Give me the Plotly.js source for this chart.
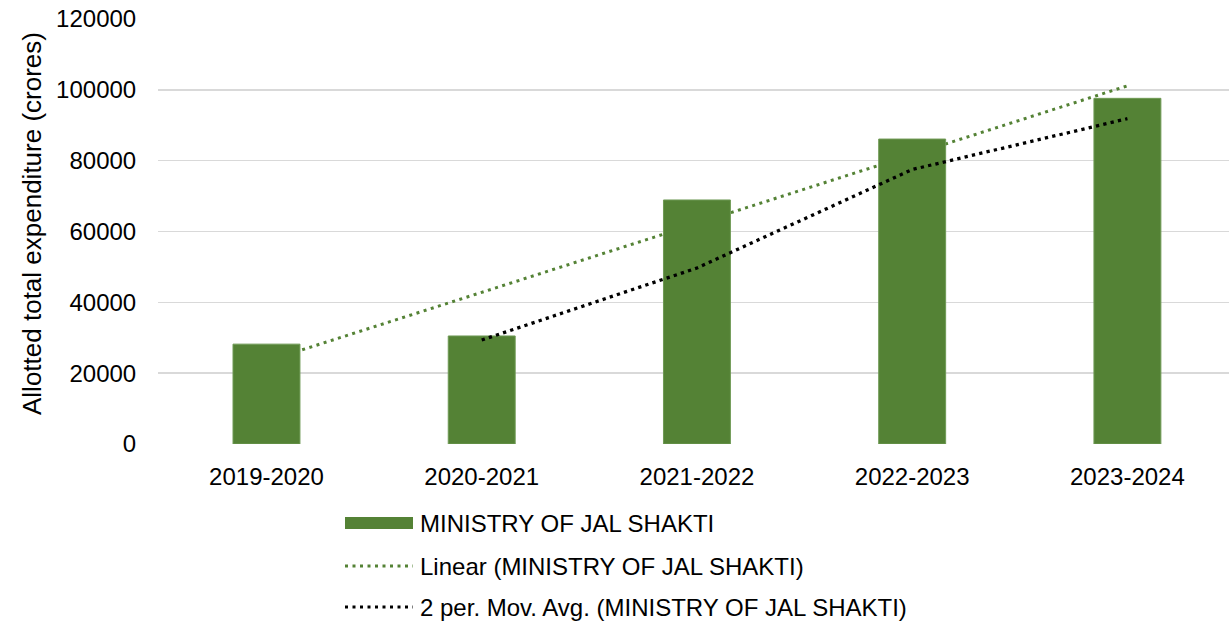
<!DOCTYPE html>
<html>
<head>
<meta charset="utf-8">
<script src="https://cdn.plot.ly/plotly-3.0.1.min.js"></script>
<style>html,body{margin:0;padding:0;background:#fff;}#chart{width:1229px;height:624px;}</style>
</head>
<body>
<div id="chart"></div>
<script>
const categories = ["2019-2020", "2020-2021", "2021-2022", "2022-2023", "2023-2024"];
const expenditure = [28200, 30500, 68900, 86100, 97600];
const yTickVals = [0, 20000, 40000, 60000, 80000, 100000, 120000];
const yTitle = "Allotted total expenditure (crores)";
const seriesName = "MINISTRY OF JAL SHAKTI";
const legendLabels = ["MINISTRY OF JAL SHAKTI", "Linear (MINISTRY OF JAL SHAKTI)", "2 per. Mov. Avg. (MINISTRY OF JAL SHAKTI)"];

const idx = categories.map((_, i) => i);
// linear regression trendline
const n = expenditure.length;
const mx = idx.reduce((a, b) => a + b, 0) / n;
const my = expenditure.reduce((a, b) => a + b, 0) / n;
let sxy = 0, sxx = 0;
idx.forEach((x, i) => { sxy += (x - mx) * (expenditure[i] - my); sxx += (x - mx) * (x - mx); });
const slope = sxy / sxx, intercept = my - slope * mx;
const linX = [idx[0], idx[n - 1]];
const linY = linX.map(x => intercept + slope * x);
// 2-period moving average
const maX = idx.slice(1);
const maY = maX.map(i => (expenditure[i] + expenditure[i - 1]) / 2);

const GREEN = "#548235";
const FONT = {family: "Liberation Sans, Arial, sans-serif", size: 24, color: "#000"};

const traces = [
  {type: "scatter", mode: "lines", x: linX, y: linY, xaxis: "x", yaxis: "y",
   line: {color: GREEN, width: 3, dash: "3px,4.5px"}, name: legendLabels[1], hoverinfo: "skip"},
  {type: "bar", x: idx, y: expenditure, xaxis: "x2", yaxis: "y2", width: 0.311,
   marker: {color: GREEN, line: {color: "#6f9a55", width: 1}}, name: seriesName},
  {type: "scatter", mode: "lines", x: maX, y: maY, xaxis: "x2", yaxis: "y2",
   line: {color: "#000", width: 3.3, dash: "3.3px,4.2px"}, name: legendLabels[2], hoverinfo: "skip"}
];

const L = 158, R = 0, T = 19, B = 180;
const W = 1229 - L - R, H = 624 - T - B;
const px = x => (x - L) / W;
const py = y => (624 - B - y) / H;
const xRange = [-0.504, 4.472];

const shapes = [
  {type: "rect", xref: "paper", yref: "paper", x0: px(345), x1: px(413), y0: py(529), y1: py(517), fillcolor: GREEN, line: {width: 0}},
  {type: "line", xref: "paper", yref: "paper", x0: px(345), x1: px(413), y0: py(566), y1: py(566), line: {color: GREEN, width: 3, dash: "3px,4.5px"}},
  {type: "line", xref: "paper", yref: "paper", x0: px(345), x1: px(413), y0: py(607), y1: py(607), line: {color: "#000", width: 3, dash: "3px,4.5px"}}
];
const legendY = [523, 566, 607];
const annotations = legendLabels.map((t, i) => ({
  text: t, xref: "paper", yref: "paper", x: px(418), y: py(legendY[i]), xanchor: "left", yanchor: "middle",
  showarrow: false, font: FONT
}));
annotations.push({
  text: yTitle, xref: "paper", yref: "paper", x: px(32), y: py(224), xanchor: "center", yanchor: "middle",
  textangle: -90, showarrow: false, font: Object.assign({}, FONT, {size: 26})
});

const layout = {
  width: 1229, height: 624,
  margin: {l: L, r: R, t: T, b: B},
  paper_bgcolor: "#fff", plot_bgcolor: "#fff",
  showlegend: false,
  font: FONT,
  xaxis: {range: xRange, tickvals: idx, ticktext: categories, showgrid: false, zeroline: false,
          showline: false, ticks: "outside", ticklen: 11, tickcolor: "rgba(0,0,0,0)", tickfont: FONT, fixedrange: true},
  yaxis: {range: [0, 120000], tickvals: yTickVals, tickformat: "d", showgrid: true, gridcolor: "#d9d9d9", gridwidth: 1.5,
          zeroline: false, showline: false, ticks: "outside", ticklen: 16, tickcolor: "rgba(0,0,0,0)", tickfont: FONT},
  xaxis2: {overlaying: "x", range: xRange, visible: false},
  yaxis2: {overlaying: "y", range: [0, 120000], visible: false},
  shapes: shapes,
  annotations: annotations
};

Plotly.newPlot("chart", traces, layout, {displayModeBar: false, staticPlot: true});
</script>
</body>
</html>
